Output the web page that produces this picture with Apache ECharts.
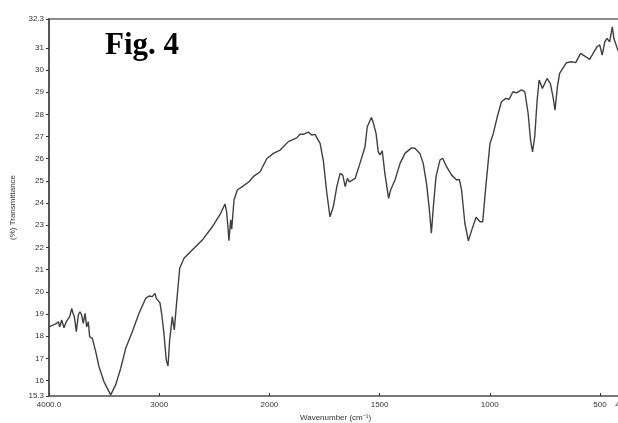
<!DOCTYPE html>
<html>
<head>
<meta charset="utf-8">
<script src="https://cdn.jsdelivr.net/npm/echarts@6/dist/echarts.min.js"></script>
<style>
  html, body { margin: 0; padding: 0; background: #fff; }
  #chart { width: 618px; height: 423px; }
</style>
</head>
<body>
<div id="chart"></div>
<script>
// IR spectrum (cm-1 / %T)
const wavenumbers = [
  4000, 3939, 3915, 3903, 3885, 3864, 3843, 3825, 3812, 3794, 3782, 3770, 3752, 3734, 3719, 3704,
  3689, 3673, 3658, 3643, 3631, 3607, 3576, 3546, 3501, 3440, 3395, 3349, 3304, 3244, 3183, 3123,
  3093, 3063, 3038, 3026, 2993, 2978, 2957, 2936, 2920, 2905, 2881, 2863, 2845, 2814, 2775, 2700,
  2609, 2518, 2442, 2403, 2388, 2376, 2367, 2351, 2342, 2321, 2291, 2246, 2185, 2146, 2084, 2024,
  1982, 1951, 1914, 1876, 1861, 1846, 1823, 1808, 1793, 1770, 1755, 1740, 1725, 1710, 1694, 1679,
  1667, 1656, 1646, 1637, 1611, 1589, 1581, 1566, 1556, 1548, 1537, 1530, 1516, 1506, 1498, 1488,
  1476, 1459, 1450, 1430, 1407, 1385, 1355, 1340, 1317, 1302, 1287, 1274, 1265, 1256, 1244, 1226,
  1214, 1196, 1173, 1150, 1138, 1128, 1113, 1097, 1082, 1062, 1044, 1032, 1018, 999, 984, 966,
  947, 927, 912, 895, 879, 856, 841, 826, 815, 806, 796, 785, 776, 761, 740, 725,
  713, 704, 693, 683, 652, 630, 610, 588, 569, 547, 531, 513, 501, 490, 478, 468,
  456, 444, 437, 428, 419, 405
]
const transmittance = [
  18.42, 18.55, 18.65, 18.42, 18.73, 18.38, 18.65, 18.73, 18.88, 19.25, 19.03, 18.88, 18.20, 18.95, 19.10, 18.95,
  18.58, 19.03, 18.42, 18.65, 17.97, 17.90, 17.30, 16.62, 15.94, 15.35, 15.80, 16.55, 17.45, 18.20, 19.03, 19.70,
  19.81, 19.78, 19.93, 19.70, 19.50, 19.03, 18.13, 16.92, 16.65, 17.82, 18.88, 18.28, 19.33, 21.06, 21.51, 21.88,
  22.33, 22.93, 23.54, 23.96, 23.61, 22.93, 22.30, 23.24, 22.82, 24.14, 24.59, 24.74, 24.96, 25.19, 25.41, 26.00,
  26.24, 26.39, 26.77, 26.94, 27.10, 27.10, 27.20, 27.07, 27.10, 26.69, 25.90, 24.50, 23.38, 23.83, 24.74, 25.34,
  25.26, 24.74, 25.11, 24.96, 25.11, 25.79, 25.86, 26.54, 27.44, 27.37, 27.86, 27.67, 27.14, 26.31, 26.17, 26.36,
  25.34, 24.21, 24.59, 25.04, 25.79, 26.24, 26.49, 26.47, 26.24, 25.79, 24.89, 23.69, 22.64, 23.83, 25.19, 25.94,
  26.02, 25.64, 25.26, 25.04, 25.07, 24.59, 23.09, 22.30, 22.78, 23.36, 23.16, 23.16, 24.74, 26.69, 27.14, 27.89,
  28.57, 28.72, 28.68, 29.02, 28.97, 29.10, 29.02, 28.05, 26.84, 26.31, 26.99, 28.65, 29.55, 29.17, 29.62, 29.39,
  28.79, 28.19, 29.25, 29.85, 30.33, 30.37, 30.33, 30.75, 30.63, 30.48, 30.75, 31.05, 31.13, 30.67, 31.27, 31.43,
  31.27, 31.95, 31.43, 31.35, 30.90, 30.70
]
const xTickLabels = [4000, 3000, 2000, 1500, 1000, 500, 400]
const yTickLabels = [15.3, 16, 17, 18, 19, 20, 21, 22, 23, 24, 25, 26, 27, 28, 29, 30, 31, 32.3]

// the instrument doubles the scale below 2000 cm-1
function toPos (w) {
  return w >= 2000 ? 4000 - w : 2000 + 2 * (2000 - w)
}
function fromPos (t) {
  return t <= 2000 ? 4000 - t : 2000 - (t - 2000) / 2
}

const chart = echarts.init(document.getElementById('chart'))
const labelFont = { fontFamily: 'Liberation Sans', fontSize: 8, color: '#333' }

chart.setOption({
  animation: false,
  title: {
    text: 'Fig. 4',
    left: 100,
    top: 25,
    textStyle: { fontFamily: 'Liberation Serif', fontWeight: 'bold', fontSize: 31, color: '#000' }
  },
  grid: {
    left: 49,
    top: 19,
    bottom: 27,
    right: -4,
    outerBoundsMode: 'none',
    show: true,
    borderColor: '#8c8c8c',
    borderWidth: 2
  },
  xAxis: {
    type: 'value',
    min: 0,
    max: toPos(400),
    name: 'Wavenumber (cm⁻¹)',
    nameLocation: 'middle',
    nameGap: 16,
    nameTextStyle: labelFont,
    splitLine: { show: false },
    axisLine: { lineStyle: { color: '#777', width: 2 } },
    axisTick: { inside: true, length: 3, lineStyle: { color: '#333' }, customValues: xTickLabels.map(toPos) },
    axisLabel: Object.assign({
      margin: 5,
      hideOverlap: false,
      customValues: xTickLabels.map(toPos),
      formatter: function (t) {
        const w = Math.round(fromPos(t))
        return w === 4000 ? '4000.0' : String(w)
      }
    }, labelFont)
  },
  yAxis: {
    type: 'value',
    min: 15.3,
    max: 32.3,
    name: '(%) Transmittance',
    nameLocation: 'middle',
    nameGap: 32,
    nameTextStyle: labelFont,
    splitLine: { show: false },
    axisLine: { show: true, lineStyle: { color: '#444', width: 1.5 } },
    axisTick: { show: true, length: 3, lineStyle: { color: '#333' }, customValues: yTickLabels },
    axisLabel: Object.assign({ margin: 5, customValues: yTickLabels }, labelFont)
  },
  series: [
    {
      type: 'line',
      showSymbol: false,
      clip: true,
      lineStyle: { color: '#404040', width: 1.4 },
      data: wavenumbers.map((w, i) => [toPos(w), transmittance[i]])
    }
  ]
})
</script>
</body>
</html>
